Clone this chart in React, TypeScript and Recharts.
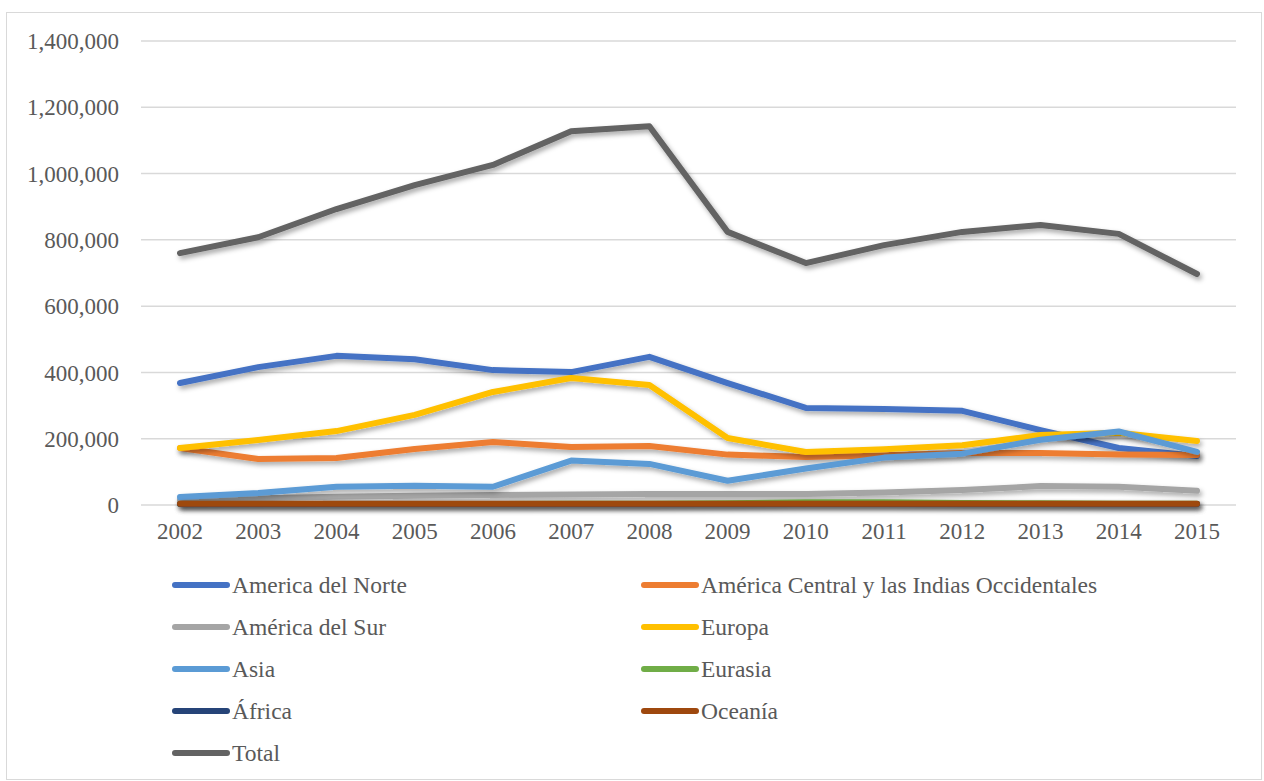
import React from 'react';
import { LineChart, Line, XAxis, YAxis, CartesianGrid, Legend } from 'recharts';

const years = ['2002', '2003', '2004', '2005', '2006', '2007', '2008', '2009', '2010', '2011', '2012', '2013', '2014', '2015'];

const norte = [368000, 416000, 450000, 440000, 407000, 401000, 447000, 368000, 293000, 290000, 284000, 226000, 172000, 148000];
const central = [172000, 139000, 142000, 169000, 190000, 175000, 178000, 152000, 145000, 150000, 157000, 157000, 152000, 151000];
const sur = [15000, 20000, 25000, 28000, 30000, 32000, 33000, 33000, 33000, 38000, 45000, 57000, 55000, 43000];
const europa = [172000, 196000, 223000, 272000, 341000, 383000, 362000, 202000, 160000, 168000, 180000, 211000, 218000, 193000];
const asia = [24000, 36000, 55000, 58000, 55000, 134000, 124000, 73000, 110000, 143000, 155000, 197000, 222000, 160000];
const eurasia = [3000, 3000, 3000, 3000, 3000, 4000, 4000, 5000, 8000, 8000, 6000, 5000, 4000, 4000];
const africa = [3000, 3000, 3000, 3000, 3000, 3000, 3000, 3000, 3000, 3000, 3000, 3000, 3000, 3000];
const oceania = [4000, 4000, 4000, 4000, 4000, 4000, 4000, 4000, 4000, 4000, 4000, 4000, 4000, 4000];
const total = [760000, 808000, 893000, 965000, 1026000, 1128000, 1143000, 824000, 730000, 784000, 824000, 845000, 818000, 697000];

const yTicks = [0, 200000, 400000, 600000, 800000, 1000000, 1200000, 1400000];

const series = [
  { key: 'norte', name: 'America del Norte', color: '#4472C4', values: norte },
  { key: 'central', name: 'América Central y las Indias Occidentales', color: '#ED7D31', values: central },
  { key: 'sur', name: 'América del Sur', color: '#A5A5A5', values: sur },
  { key: 'europa', name: 'Europa', color: '#FFC000', values: europa },
  { key: 'asia', name: 'Asia', color: '#5B9BD5', values: asia },
  { key: 'eurasia', name: 'Eurasia', color: '#70AD47', values: eurasia },
  { key: 'africa', name: 'África', color: '#264478', values: africa },
  { key: 'oceania', name: 'Oceanía', color: '#9E480E', values: oceania },
  { key: 'total', name: 'Total', color: '#636363', values: total },
];

const data = years.map((year, i) => {
  const row: Record<string, string | number> = { year };
  series.forEach(s => {
    row[s.key] = s.values[i];
  });
  return row;
});

const font = "'Liberation Serif', 'Times New Roman', serif";

const LegendBox = () => (
  <div style={{ position: 'relative', height: 219, fontFamily: font, fontSize: 23.5, color: '#595959' }}>
    {series.map((s, i) => {
      const col = i % 2;
      const row = Math.floor(i / 2);
      return (
        <div
          key={s.key}
          style={{
            position: 'absolute',
            left: col === 0 ? 165 : 634,
            top: 9 + row * 42,
            height: 42,
            display: 'flex',
            alignItems: 'center',
            whiteSpace: 'nowrap',
          }}
        >
          <span style={{ display: 'inline-block', width: 58, height: 6, borderRadius: 3, background: s.color, marginRight: 2 }} />
          <span>{s.name}</span>
        </div>
      );
    })}
  </div>
);

const fmt = (v: number) => v.toLocaleString('en-US');

export default function App() {
  return (
    <div
      style={{
        position: 'absolute',
        left: 6,
        top: 12,
        width: 1254,
        height: 766,
        border: '1px solid #d9d9d9',
        background: '#fff',
      }}
    >
      <LineChart width={1254} height={761} data={data} margin={{ top: 28, right: 25, left: 0, bottom: 0 }}>
        <defs>
          <filter id="shadow" filterUnits="userSpaceOnUse" x="0" y="0" width="1254" height="761">
            <feDropShadow dx="2" dy="3" stdDeviation="2.5" floodColor="#000" floodOpacity="0.35" />
          </filter>
        </defs>
        <CartesianGrid vertical={false} stroke="#d9d9d9" strokeWidth={1.5} />
        <XAxis
          dataKey="year"
          padding={{ left: 39, right: 39 }}
          axisLine={false}
          tickLine={false}
          height={50}
          tickMargin={12}
          tick={{ fill: '#595959', fontSize: 23, fontFamily: font }}
        />
        <YAxis
          type="number"
          domain={[0, 1400000]}
          ticks={yTicks}
          tickFormatter={fmt}
          axisLine={false}
          tickLine={false}
          width={134}
          tickMargin={16}
          tick={{ fill: '#595959', fontSize: 23, fontFamily: font }}
        />
        <Legend verticalAlign="bottom" content={() => <LegendBox />} wrapperStyle={{ left: 0, width: 1254 }} />
        {series.map(s => (
          <Line
            key={s.key}
            type="linear"
            dataKey={s.key}
            name={s.name}
            stroke={s.color}
            strokeWidth={6}
            strokeLinecap="round"
            strokeLinejoin="round"
            dot={false}
            activeDot={false}
            filter="url(#shadow)"
            isAnimationActive={false}
          />
        ))}
      </LineChart>
    </div>
  );
}
